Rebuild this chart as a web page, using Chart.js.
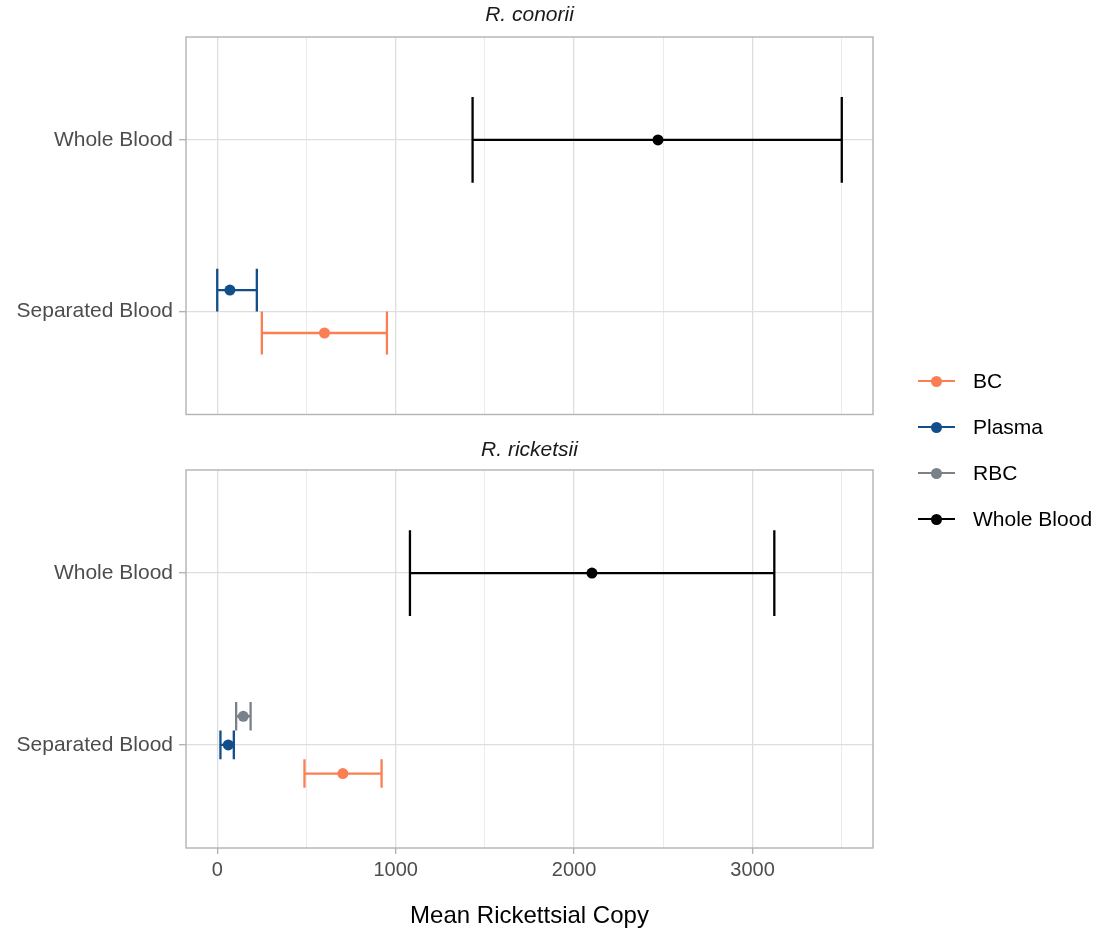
<!DOCTYPE html>
<html>
<head>
<meta charset="utf-8">
<script src="https://cdn.jsdelivr.net/npm/chart.js@4/dist/chart.umd.min.js"></script>
<style>
  body { margin:0; background:#fff; width:1112px; height:930px; position:relative; overflow:hidden;
         font-family:'Liberation Sans', Arial, sans-serif; }
  canvas { position:absolute; left:0; }
  #panelA { top:0; }
  #panelB { top:430px; }
  .legend-row { position:absolute; left:918px; height:24px; }
  .legend-line { position:absolute; left:0; top:11px; width:37px; height:2.2px; }
  .legend-dot { position:absolute; left:13px; top:6.5px; width:11px; height:11px; border-radius:50%; }
  .legend-text { position:absolute; left:55px; top:0; font-size:21px; line-height:24px; color:#000; white-space:nowrap; }
</style>
</head>
<body>
<canvas id="panelA" width="1059" height="420"></canvas>
<canvas id="panelB" width="1059" height="500"></canvas>
<div id="legend"></div>

<script>
// ---- Data ----
const CATEGORIES = ['Separated Blood', 'Whole Blood'];   // y positions 1, 2
const PANELS     = ['R. conorii', 'R. ricketsii'];
const LEGEND     = ['BC', 'Plasma', 'RBC', 'Whole Blood'];

const CONORII_GROUPS = ['BC', 'Plasma', 'Whole Blood'];
const CONORII_CAT    = ['Separated Blood', 'Separated Blood', 'Whole Blood'];
const CONORII_MEAN   = [601, 71, 2470];
const CONORII_LOW    = [250, 0, 1431];
const CONORII_HIGH   = [951, 222, 3500];

const RICKETSII_GROUPS = ['BC', 'Plasma', 'RBC', 'Whole Blood'];
const RICKETSII_CAT    = ['Separated Blood', 'Separated Blood', 'Separated Blood', 'Whole Blood'];
const RICKETSII_MEAN   = [704, 62, 146, 2100];
const RICKETSII_LOW    = [489, 18, 106, 1080];
const RICKETSII_HIGH   = [921, 93, 187, 3122];

const X_MAJOR = [0, 1000, 2000, 3000];
const X_MINOR = [500, 1500, 2500, 3500];

// ---- Style ----
const COLORS = { 'BC':'#FA7F52', 'Plasma':'#124E8A', 'RBC':'#79818B', 'Whole Blood':'#000000' };
const DODGE  = 0.5;
const FONT   = "'Liberation Sans', Arial, sans-serif";
const X_MIN  = -175, X_MAX = 3675;

Chart.defaults.font.family = FONT;

// ---- Helpers ----
function buildDatasets(groups, cats, mean, low, high) {
  return groups.map((g, i) => {
    const inCat = groups.filter((_, k) => cats[k] === cats[i]);
    const n   = inCat.length;
    const j   = inCat.indexOf(g);
    const pos = CATEGORIES.indexOf(cats[i]) + 1 + (j - (n - 1) / 2) * DODGE / n;
    return {
      label: g,
      data: [{ x: mean[i], y: pos, lo: low[i], hi: high[i], cap: DODGE / (2 * n) }],
      backgroundColor: COLORS[g], borderColor: COLORS[g],
      pointRadius: 5.5, pointHoverRadius: 5.5, borderWidth: 0,
    };
  });
}

const errorBars = {
  id: 'errorBars',
  beforeDatasetsDraw(chart) {
    const { ctx, scales: { x, y } } = chart;
    ctx.save();
    ctx.lineWidth = 2.3;
    chart.data.datasets.forEach(ds => {
      ctx.strokeStyle = ds.borderColor;
      ds.data.forEach(p => {
        const x0 = x.getPixelForValue(p.lo), x1 = x.getPixelForValue(p.hi);
        const yc = y.getPixelForValue(p.y);
        const yt = y.getPixelForValue(p.y + p.cap), yb = y.getPixelForValue(p.y - p.cap);
        ctx.beginPath();
        ctx.moveTo(x0, yc); ctx.lineTo(x1, yc);
        ctx.moveTo(x0, yt); ctx.lineTo(x0, yb);
        ctx.moveTo(x1, yt); ctx.lineTo(x1, yb);
        ctx.stroke();
      });
    });
    ctx.restore();
  }
};

// panel frame + centre the strip title over the panel, not the canvas
const panelFrame = {
  id: 'panelFrame',
  afterLayout(chart) {
    const t = chart.titleBlock;
    if (t) { t.left = chart.chartArea.left; t.right = chart.chartArea.right; t.width = t.right - t.left; }
  },
  afterDraw(chart) {
    const { ctx, chartArea: a } = chart;
    ctx.save();
    ctx.strokeStyle = '#b3b3b3';
    ctx.lineWidth = 1.4;
    ctx.strokeRect(a.left, a.top, a.right - a.left, a.bottom - a.top);
    ctx.restore();
  }
};

function makePanel(id, title, titlePad, datasets, showX) {
  const isMajor = v => X_MAJOR.includes(v);
  return new Chart(document.getElementById(id), {
    type: 'scatter',
    data: { datasets },
    plugins: [errorBars, panelFrame],
    options: {
      responsive: false,
      animation: false,
      devicePixelRatio: 1,
      layout: { padding: { left: 0, right: 186, top: 0, bottom: 0 } },
      plugins: {
        legend: { display: false },
        tooltip: { enabled: false },
        title: {
          display: true, text: title, color: '#1a1a1a',
          font: { size: 21, style: 'italic', weight: 'normal', lineHeight: 1.2 },
          padding: titlePad,
        },
      },
      scales: {
        x: {
          type: 'linear', min: X_MIN, max: X_MAX,
          afterBuildTicks: s => { s.ticks = [...X_MAJOR, ...X_MINOR].sort((a, b) => a - b).map(v => ({ value: v })); },
          afterFit: s => { s.height = showX ? 82 : 2; },
          border: { display: false },
          grid: {
            color: c => isMajor(c.tick?.value) ? '#dedede' : '#ebebeb',
            lineWidth: c => isMajor(c.tick?.value) ? 1.3 : 1,
            drawTicks: showX, tickLength: 6,
            tickColor: c => isMajor(c.tick?.value) ? '#b3b3b3' : 'rgba(0,0,0,0)',
            tickWidth: 1.4,
          },
          ticks: {
            display: showX, autoSkip: false, maxRotation: 0, padding: 4,
            color: '#4d4d4d', font: { size: 20 },
            callback: v => isMajor(v) ? String(v) : '',
          },
          title: {
            display: showX, text: 'Mean Rickettsial Copy', color: '#000',
            font: { size: 24, lineHeight: 1.1 }, padding: { top: 0, bottom: 0 },
          },
        },
        y: {
          type: 'linear', min: 0.4, max: 2.6,
          afterBuildTicks: s => { s.ticks = CATEGORIES.map((_, i) => ({ value: i + 1 })); },
          afterFit: s => { s.width = 186; s.paddingTop = 0; s.paddingBottom = 0; },
          border: { display: false },
          grid: { color: '#dedede', lineWidth: 1.3, tickLength: 7, tickColor: '#b3b3b3', tickWidth: 1.4 },
          ticks: {
            padding: 6, color: '#4d4d4d', font: { size: 21 },
            callback: v => CATEGORIES[v - 1] || '',
          },
        },
      },
    },
  });
}

// ---- Panels ----
makePanel('panelA', PANELS[0], { top: 2.5, bottom: 9.3 },
  buildDatasets(CONORII_GROUPS, CONORII_CAT, CONORII_MEAN, CONORII_LOW, CONORII_HIGH), false);
makePanel('panelB', PANELS[1], { top: 7.4, bottom: 7.4 },
  buildDatasets(RICKETSII_GROUPS, RICKETSII_CAT, RICKETSII_MEAN, RICKETSII_LOW, RICKETSII_HIGH), true);

// ---- Legend ----
const legend = document.getElementById('legend');
const LEGEND_Y = [381, 427, 473, 519];
LEGEND.forEach((g, i) => {
  legend.insertAdjacentHTML('beforeend', `
    <div class="legend-row" style="top:${LEGEND_Y[i] - 12}px;">
      <span class="legend-line" style="background:${COLORS[g]};"></span>
      <span class="legend-dot" style="background:${COLORS[g]};"></span>
      <span class="legend-text">${g}</span>
    </div>
  `);
});
</script>
</body>
</html>
